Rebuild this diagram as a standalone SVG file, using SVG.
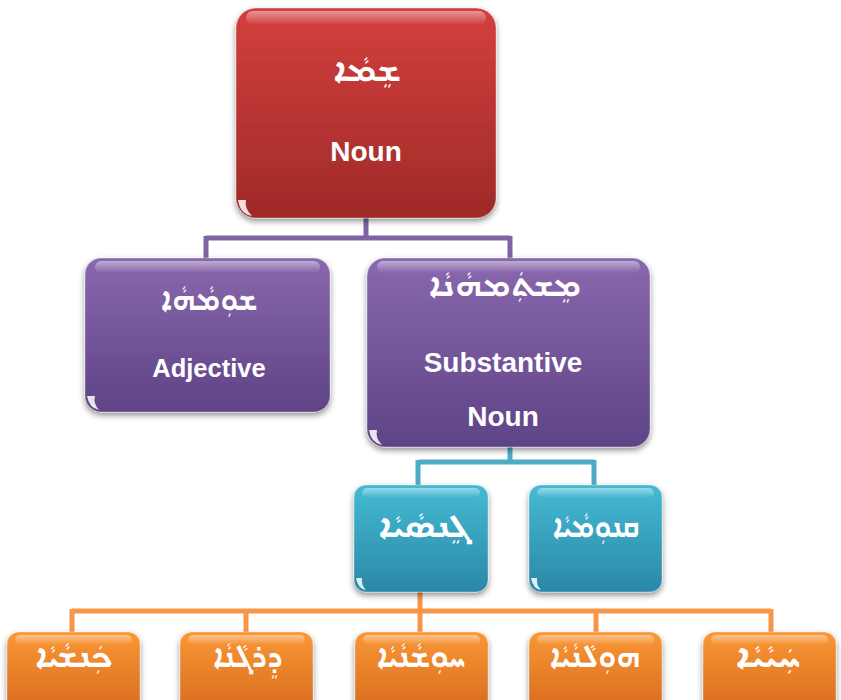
<svg xmlns="http://www.w3.org/2000/svg" width="841" height="700" viewBox="0 0 841 700">
<defs>
<linearGradient id="gRed" x1="0" y1="0" x2="0" y2="1"><stop offset="0" stop-color="#d43f3d"/><stop offset="1" stop-color="#9e2a28"/></linearGradient>
<linearGradient id="gPur" x1="0" y1="0" x2="0" y2="1"><stop offset="0" stop-color="#8a68ae"/><stop offset="1" stop-color="#5e4386"/></linearGradient>
<linearGradient id="gTeal" x1="0" y1="0" x2="0" y2="1"><stop offset="0" stop-color="#45bad4"/><stop offset="1" stop-color="#2a88a6"/></linearGradient>
<linearGradient id="gOra" x1="0" y1="0" x2="0" y2="1"><stop offset="0" stop-color="#fa9735"/><stop offset="1" stop-color="#d76b1f"/></linearGradient>
<linearGradient id="gGloss" x1="0" y1="0" x2="0" y2="1"><stop offset="0" stop-color="#fff" stop-opacity="0.45"/><stop offset="1" stop-color="#fff" stop-opacity="0"/></linearGradient>
<filter id="sh" x="-10%" y="-10%" width="120%" height="125%"><feGaussianBlur in="SourceAlpha" stdDeviation="3"/><feOffset dx="0" dy="3" result="b"/><feComponentTransfer><feFuncA type="linear" slope="0.45"/></feComponentTransfer><feMerge><feMergeNode/><feMergeNode in="SourceGraphic"/></feMerge></filter>
</defs>
<style>
.box{filter:url(#sh);stroke:#ffffff;stroke-opacity:0.35;stroke-width:1}
.gloss{fill:url(#gGloss)}
.hl{fill:#ffffff;fill-opacity:0.85}
.syr{font-family:"Noto Sans Syriac Eastern","Estrangelo Edessa","DejaVu Sans",sans-serif;font-size:30px;font-weight:bold;fill:#fff;text-anchor:middle}
.en{font-family:"Liberation Sans",Arial,sans-serif;font-weight:bold;fill:#fff;text-anchor:middle}
.c{fill:none;stroke-width:5}
</style>
<rect width="841" height="700" fill="#ffffff"/>
<g id="connectors">
<path class="c" stroke="#8064a2" d="M366,218 V238 M206,238 H510 M206,236 V260 M510,236 V260"/>
<path class="c" stroke="#4bacc6" d="M510,446 V462 M418,462 H594 M418,460 V487 M594,460 V487"/>
<path class="c" stroke="#f79646" d="M420,592 V611 M72,611 H771 M72,609 V634 M246,609 V634 M420,609 V634 M596,609 V634 M771,609 V634"/>
</g>
<g id="n-noun">
<rect class="box" x="236" y="8" width="260" height="210" rx="20" fill="url(#gRed)"/>
<rect class="gloss" x="246" y="11" width="240" height="14" rx="7"/>
<path class="hl" d="M238,200 Q240,214 252,216 Q244,208 246,200 Z"/>
<text class="syr" x="367" y="81" direction="rtl" textLength="68" lengthAdjust="spacingAndGlyphs">ܫܸܡܵܐ</text>
<text class="en" x="366" y="161" font-size="28">Noun</text>
</g>
<g id="n-adjective">
<rect class="box" x="85" y="258" width="245" height="154" rx="16" fill="url(#gPur)"/>
<rect class="gloss" x="95" y="261" width="225" height="12" rx="6"/>
<path class="hl" d="M87,396 Q89,408 99,410 Q93,403 95,396 Z"/>
<text class="syr" x="209" y="310" direction="rtl" textLength="97" lengthAdjust="spacingAndGlyphs">ܫܘܼܡܵܗܵܐ</text>
<text class="en" x="209" y="377" font-size="25.5">Adjective</text>
</g>
<g id="n-substantive">
<rect class="box" x="367" y="258" width="283" height="189" rx="18" fill="url(#gPur)"/>
<rect class="gloss" x="377" y="261" width="263" height="12" rx="6"/>
<path class="hl" d="M369,430 Q371,443 382,445 Q375,438 377,430 Z"/>
<text class="syr" x="505" y="296" direction="rtl" textLength="153" lengthAdjust="spacingAndGlyphs">ܡܸܫܬܲܡܗܵܢܵܐ</text>
<text class="en" x="503" y="372" font-size="28">Substantive</text>
<text class="en" x="503" y="426" font-size="28">Noun</text>
</g>
<g id="n-common">
<rect class="box" x="354" y="485" width="134" height="107" rx="12" fill="url(#gTeal)"/>
<rect class="gloss" x="362" y="488" width="118" height="10" rx="5"/>
<path class="hl" d="M356,578 Q358,589 366,590 Q361,585 362,578 Z"/>
<text class="syr" x="424" y="537" direction="rtl" textLength="92" lengthAdjust="spacingAndGlyphs">ܓܸܢܣܵܝܵܐ</text>
</g>
<g id="n-proper">
<rect class="box" x="529" y="485" width="133" height="107" rx="12" fill="url(#gTeal)"/>
<rect class="gloss" x="537" y="488" width="117" height="10" rx="5"/>
<path class="hl" d="M531,578 Q533,589 541,590 Q536,585 537,578 Z"/>
<text class="syr" x="596" y="537" direction="rtl" textLength="87" lengthAdjust="spacingAndGlyphs">ܩܢܘܼܡܵܝܵܐ</text>
</g>
<g id="n-o1">
<rect class="box" x="7" y="632" width="133" height="80" rx="12" fill="url(#gOra)"/>
<rect class="gloss" x="15" y="635" width="117" height="10" rx="5"/>
<text class="syr" x="74" y="667" direction="rtl" textLength="78" lengthAdjust="spacingAndGlyphs">ܟܲܢܫܵܝܵܐ</text>
</g>
<g id="n-o2">
<rect class="box" x="180" y="632" width="133" height="80" rx="12" fill="url(#gOra)"/>
<rect class="gloss" x="188" y="635" width="117" height="10" rx="5"/>
<text class="syr" x="248" y="667" direction="rtl" textLength="70" lengthAdjust="spacingAndGlyphs">ܕܸܪܓܵܢܵܐ</text>
</g>
<g id="n-o3">
<rect class="box" x="355" y="632" width="133" height="80" rx="12" fill="url(#gOra)"/>
<rect class="gloss" x="363" y="635" width="117" height="10" rx="5"/>
<text class="syr" x="421" y="667" direction="rtl" textLength="89" lengthAdjust="spacingAndGlyphs">ܚܘܼܫܵܢܵܝܵܐ</text>
</g>
<g id="n-o4">
<rect class="box" x="529" y="632" width="133" height="80" rx="12" fill="url(#gOra)"/>
<rect class="gloss" x="537" y="635" width="117" height="10" rx="5"/>
<text class="syr" x="595" y="667" direction="rtl" textLength="91" lengthAdjust="spacingAndGlyphs">ܗܘܼܠܵܢܵܝܵܐ</text>
</g>
<g id="n-o5">
<rect class="box" x="703" y="632" width="133" height="80" rx="12" fill="url(#gOra)"/>
<rect class="gloss" x="711" y="635" width="117" height="10" rx="5"/>
<text class="syr" x="768" y="667" direction="rtl" textLength="66" lengthAdjust="spacingAndGlyphs">ܚܲܝܵܝܵܐ</text>
</g>
</svg>
